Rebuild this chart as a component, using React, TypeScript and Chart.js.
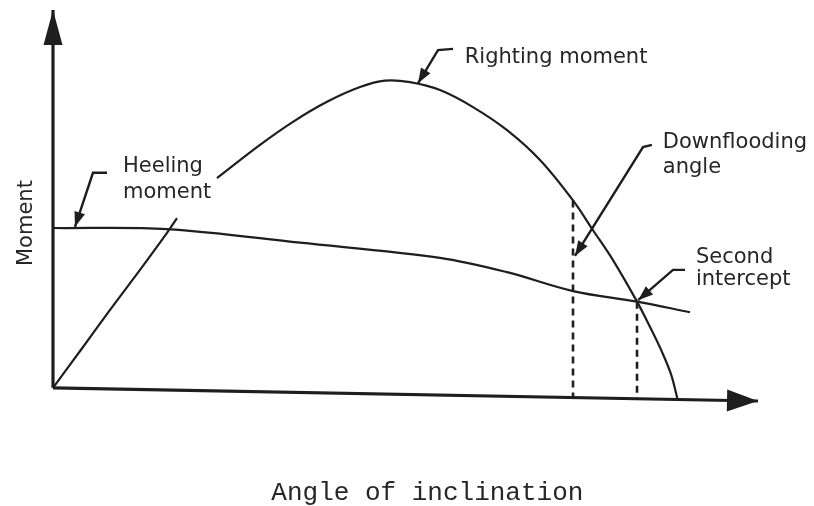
import React, { useEffect, useRef } from "react";
import { Chart, registerables } from "chart.js";

Chart.register(...registerables);

// ---- Data (angle of inclination 0-100, moment 0-100, arbitrary units) ----
const rightingAngle = [0, 4.26, 8.09, 12.34, 16.17, 17.59, 20.4, 23.26, 29.36, 34.04, 38.87, 43.55, 47.09, 50.64, 54.89, 59.57, 64.4, 69.08, 73.76, 76.6, 79.43, 82.84, 84.68, 86.38, 87.66, 88.6];
const rightingMoment = [0, 10.8, 20.6, 31.2, 41.0, 44.9, null, 55.5, 64.3, 70.4, 75.7, 79.6, 81.3, 80.9, 78.8, 74.3, 68.2, 60.3, 49.6, 41.7, 33.8, 22.8, 16.1, 9.5, 3.6, -3.1];

const heelingAngle = [0, 16.17, 35.04, 54.89, 64.4, 73.76, 82.84, 90.35];
const heelingMoment = [42.3, 42.0, 38.4, 34.4, 30.6, 25.6, 22.8, 20.0];

const downfloodingAngle = 73.76;
const downfloodingMoment = 49.6;
const secondInterceptAngle = 82.84;
const secondInterceptMoment = 22.8;

// axes as drawn (the horizontal axis sags slightly to the right)
const xAxisAngles = [0, 100];
const xAxisMoments = [0, -3.5];
const yAxisAngles = [0, 0];
const yAxisMoments = [0, 100];

// label pointers (bar end, elbow, tip)
const rightingPointerAngles = [56.74, 54.61, 51.77];
const rightingPointerMoments = [89.7, 89.4, 80.6];
const heelingPointerAngles = [7.66, 5.67, 3.12];
const heelingPointerMoments = [56.9, 56.9, 42.6];
const downfloodingPointerAngles = [84.96, 83.69, 74.04];
const downfloodingPointerMoments = [64.3, 63.7, 34.9];
const secondPointerAngles = [89.65, 87.94, 83.0];
const secondPointerMoments = [31.2, 31.2, 23.2];

const labelRighting = ["Righting moment"];
const labelHeeling = ["Heeling", "moment"];
const labelDownflooding = ["Downflooding", "angle"];
const labelSecond = ["Second", "intercept"];
const yTitle = "Moment";
const xTitle = "Angle of inclination";

const INK = "#1e1e1e";

const pts = (xs: number[], ys: (number | null)[]) => xs.map((x, i) => ({ x, y: ys[i] }));

const axisOnX = (a: number) =>
  xAxisMoments[0] + ((xAxisMoments[1] - xAxisMoments[0]) * (a - xAxisAngles[0])) / (xAxisAngles[1] - xAxisAngles[0]);

const diagramPlugin = {
  id: "diagram",
  afterDatasetsDraw(chart: any) {
    const ctx = chart.ctx;
    const xs = chart.scales.x;
    const ys = chart.scales.y;
    chart.data.datasets.forEach((ds: any) => {
      const head = ds.arrowHead;
      if (!head) return;
      const d = ds.data;
      const a = d[d.length - 2];
      const b = d[d.length - 1];
      const ax = xs.getPixelForValue(a.x);
      const ay = ys.getPixelForValue(a.y);
      const bx = xs.getPixelForValue(b.x);
      const by = ys.getPixelForValue(b.y);
      const ang = Math.atan2(by - ay, bx - ax);
      const c = Math.cos(ang);
      const s = Math.sin(ang);
      const L = head.length;
      const W = head.width / 2;
      ctx.save();
      ctx.fillStyle = INK;
      ctx.beginPath();
      ctx.moveTo(bx, by);
      ctx.lineTo(bx - L * c + W * s, by - L * s - W * c);
      ctx.lineTo(bx - L * c - W * s, by - L * s + W * c);
      ctx.closePath();
      ctx.fill();
      ctx.restore();
    });
    const labels = chart.options.plugins.diagram.labels;
    labels.forEach((l: any) => {
      ctx.save();
      ctx.font = l.font;
      ctx.fillStyle = "#262626";
      ctx.textAlign = l.align || "left";
      ctx.textBaseline = "alphabetic";
      ctx.translate(xs.getPixelForValue(l.x), ys.getPixelForValue(l.y));
      if (l.rotate) ctx.rotate(l.rotate);
      l.lines.forEach((t: string, i: number) => ctx.fillText(t, 0, i * l.lineHeight));
      ctx.restore();
    });
  },
};

export default function App() {
  const ref = useRef<HTMLCanvasElement | null>(null);

  useEffect(() => {
    if (!ref.current) return;
    const line = (data: any[], extra: any = {}) => ({
      data,
      showLine: true,
      borderColor: INK,
      backgroundColor: INK,
      borderWidth: 2.2,
      pointRadius: 0,
      pointHoverRadius: 0,
      tension: 0,
      clip: false,
      ...extra,
    });

    const chart = new Chart(ref.current, {
      type: "scatter",
      data: {
        datasets: [
          line(pts(xAxisAngles, xAxisMoments), { borderWidth: 3.2, arrowHead: { length: 31, width: 22 } }),
          line(pts(yAxisAngles, yAxisMoments), { borderWidth: 3.2, arrowHead: { length: 35, width: 19 } }),
          line(pts(rightingAngle, rightingMoment), { tension: 0.35, spanGaps: false }),
          line(pts(heelingAngle, heelingMoment), { tension: 0.35 }),
          line(
            [
              { x: downfloodingAngle, y: downfloodingMoment },
              { x: downfloodingAngle, y: axisOnX(downfloodingAngle) },
            ],
            { borderWidth: 2.6, borderDash: [7, 5] }
          ),
          line(
            [
              { x: secondInterceptAngle, y: secondInterceptMoment },
              { x: secondInterceptAngle, y: axisOnX(secondInterceptAngle) },
            ],
            { borderWidth: 2.6, borderDash: [7, 5] }
          ),
          line(pts(rightingPointerAngles, rightingPointerMoments), { borderWidth: 2.4, arrowHead: { length: 15, width: 11 } }),
          line(pts(heelingPointerAngles, heelingPointerMoments), { borderWidth: 2.4, arrowHead: { length: 15, width: 11 } }),
          line(pts(downfloodingPointerAngles, downfloodingPointerMoments), { borderWidth: 2.4, arrowHead: { length: 15, width: 11 } }),
          line(pts(secondPointerAngles, secondPointerMoments), { borderWidth: 2.4, arrowHead: { length: 15, width: 11 } }),
        ] as any,
      },
      options: {
        animation: false,
        responsive: false,
        events: [],
        layout: { padding: { left: 53, right: 56, top: 10, bottom: 88 } },
        scales: {
          x: { type: "linear", min: 0, max: 100, display: false },
          y: { type: "linear", min: -8, max: 100, display: false },
        },
        plugins: {
          legend: { display: false },
          tooltip: { enabled: false },
          diagram: {
            labels: [
              { lines: labelRighting, x: 58.4, y: 86.0, font: "21px 'DejaVu Sans'", lineHeight: 0 },
              { lines: labelHeeling, x: 9.93, y: 57.1, font: "21px 'DejaVu Sans'", lineHeight: 26 },
              { lines: labelDownflooding, x: 86.5, y: 63.5, font: "21px 'DejaVu Sans'", lineHeight: 25 },
              { lines: labelSecond, x: 91.2, y: 33.0, font: "21px 'DejaVu Sans'", lineHeight: 22 },
              { lines: [yTitle], x: -3.0, y: 43.6, font: "21px 'DejaVu Sans'", lineHeight: 0, align: "center", rotate: -Math.PI / 2 },
              { lines: [xTitle], x: 53.1, y: -29.7, font: "26px 'Liberation Mono'", lineHeight: 0, align: "center" },
            ],
          },
        } as any,
      },
      plugins: [diagramPlugin],
    } as any);
    return () => chart.destroy();
  }, []);

  return (
    <div style={{ position: "absolute", left: 0, top: 0, width: 814, height: 506, background: "#ffffff" }}>
      <canvas ref={ref} width={814} height={506} style={{ display: "block", width: 814, height: 506 }} />
    </div>
  );
}
